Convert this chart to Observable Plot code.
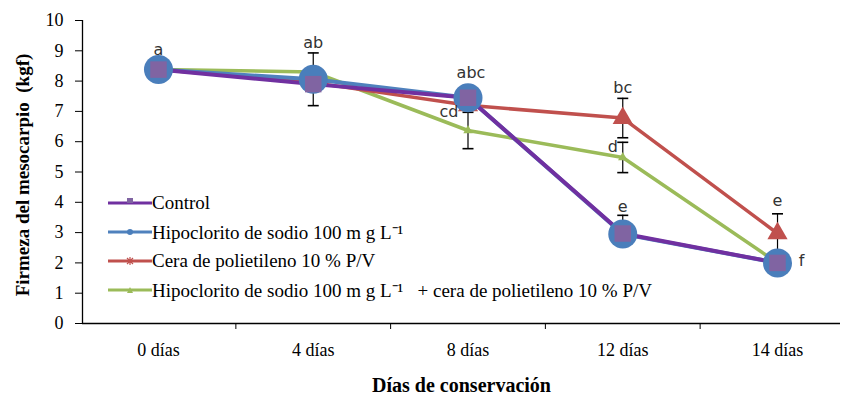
<!DOCTYPE html>
<html><head><meta charset="utf-8">
<script src="https://cdn.jsdelivr.net/npm/d3@7"></script>
<script src="https://cdn.jsdelivr.net/npm/@observablehq/plot@0.6"></script>
<style>
body{margin:0;background:#fff;}
#wrap{position:relative;width:844px;height:404px;}
#legend{position:absolute;left:108px;top:188px;font-family:"Liberation Serif",serif;font-size:19px;color:#000;}
.row{height:29px;display:flex;align-items:center;white-space:nowrap;}
</style></head><body><div id="wrap"><div id="legend"></div></div>
<script>
// ---- data ----
const days = ["0 días", "4 días", "8 días", "12 días", "14 días"];
const seriesNames = [
  "Control",
  "Hipoclorito de sodio 100 m g L\u207B\u00B9",
  "Cera de polietileno 10 % P/V",
  "Hipoclorito de sodio 100 m g L\u207B\u00B9 \u00A0 + cera de polietileno 10 % P/V"
];
const control     = [8.38, 7.90, 7.45, 2.97, 2.00];
const hipoclorito = [8.38, 8.06, 7.45, 2.95, 2.00];
const cera        = [8.38, 7.95, 7.20, 6.78, 2.97];
const combinado   = [8.38, 8.30, 6.37, 5.48, 2.00];
const seriesColors = ["#7030A0", "#4F81BD", "#C0504D", "#9BBB59"];
const yTicks = [0, 1, 2, 3, 4, 5, 6, 7, 8, 9, 10];
// error bars: series index, day index, half-width, lower part shown
const errSeries = [1, 3, 2, 3, 0, 2];
const errDay    = [1, 2, 3, 3, 3, 4];
const errSd     = [0.87, 0.60, 0.65, 0.50, 0.60, 0.65];
const errLower  = [true, true, true, true, false, true];
// significance letters
const letterText = ["a", "ab", "abc", "cd", "bc", "d", "e", "e", "f"];
const letterDay  = [0, 1, 2, 2, 3, 3, 3, 4, 4];
const letterY    = [9.04, 9.27, 8.27, 7.0, 7.79, 5.84, 3.86, 4.06, 2.08];
const letterDx   = [0, 0, 3, -19, 0, -10, 0, 0, 24];

// ---- build tables ----
const allSeries = [control, hipoclorito, cera, combinado];
const rows = allSeries.flatMap((vals, s) => vals.map((v, i) => ({s, i, v})));
const errRows = errSeries.map((s, k) => {
  const v = allSeries[s][errDay[k]];
  return {i: errDay[k], lo: errLower[k] ? v - errSd[k] : v, hi: v + errSd[k], lower: errLower[k]};
});
const letters = letterText.map((t, k) => ({t, i: letterDay[k], y: letterY[k], dx: letterDx[k]}));

const x0 = -0.491, x1 = 4.407;
const capSymbol = {draw(ctx, size) { const w = 5.5; ctx.moveTo(-w, 0); ctx.lineTo(w, 0); }};
const of = s => rows.filter(d => d.s === s);

const marks = [
  Plot.axisY({ticks: yTicks, tickSize: 7, tickPadding: 12, fontSize: 18, label: null, tickFormat: d => d}),
  Plot.axisX({ticks: days.map((d, i) => i), tickSize: 0, tickPadding: 20, fontSize: 18, label: null, tickFormat: i => days[i]}),
  Plot.axisX({ticks: days.slice(1).map((d, i) => i + 0.5), tickSize: 6, tickFormat: () => "", label: null}),
  Plot.ruleX([x0], {stroke: "#000", strokeWidth: 1.3}),
  Plot.ruleY([0], {stroke: "#000", strokeWidth: 1.3}),
  Plot.text(["Firmeza del mesocarpio  (kgf)"], {frameAnchor: "left", textAnchor: "middle", rotate: -90, dx: -60, dy: 3, fontWeight: "bold", fontSize: 19}),
  Plot.text(["Días de conservación"], {frameAnchor: "bottom", dy: 68, fontWeight: "bold", fontSize: 20}),
  // lines
  Plot.line(of(3), {x: "i", y: "v", stroke: seriesColors[3], strokeWidth: 3.5}),
  Plot.line(of(2), {x: "i", y: "v", stroke: seriesColors[2], strokeWidth: 3.5}),
  Plot.line(of(1), {x: "i", y: "v", stroke: seriesColors[1], strokeWidth: 4}),
  Plot.line(of(0), {x: "i", y: "v", stroke: seriesColors[0], strokeWidth: 4}),
  // error bars
  Plot.ruleX(errRows, {x: "i", y1: "lo", y2: "hi", stroke: "#000", strokeWidth: 1.2}),
  Plot.dot(errRows, {x: "i", y: "hi", symbol: capSymbol, stroke: "#000", strokeWidth: 1.6}),
  Plot.dot(errRows.filter(d => d.lower), {x: "i", y: "lo", symbol: capSymbol, stroke: "#000", strokeWidth: 1.6}),
  // markers
  Plot.dot(of(3), {x: "i", y: "v", symbol: "triangle", r: 3.5, fill: seriesColors[3]}),
  Plot.dot(of(2), {x: "i", y: "v", symbol: "triangle", r: 7.5, fill: "#C0504D"}),
  Plot.dot(of(1), {x: "i", y: "v", symbol: "circle", r: 14.5, fill: "#4A7EBB"}),
  Plot.dot(of(0), {x: "i", y: "v", symbol: "square", r: 9.3, fill: "#8064A2"})
];
for (const dx of [...new Set(letterDx)]) {
  marks.push(Plot.text(letters.filter(d => d.dx === dx), {x: "i", y: "y", text: "t", dx, fontFamily: "DejaVu Sans, sans-serif", fontSize: 16, fill: "#333"}));
}

const chart = Plot.plot({
  width: 844, height: 404,
  marginLeft: 82, marginRight: 4, marginTop: 20, marginBottom: 81,
  style: {fontFamily: "Liberation Serif, serif", fontSize: "18px", color: "#000", background: "#fff"},
  x: {type: "linear", domain: [x0, x1], axis: null},
  y: {type: "linear", domain: [0, 10], axis: null},
  marks
});
document.getElementById("wrap").prepend(chart);

// ---- legend ----
const markerSvg = ["<rect x='19' y='2' width='6' height='5' fill='#8064A2'/>",
  "<circle cx='22' cy='7' r='3' fill='#4A7EBB'/>",
  "<path d='M19 4L25 10M25 4L19 10M22 3V11' stroke='#C0504D' stroke-width='1.2'/>",
  "<path d='M19 10L22 4L25 10Z' fill='#9BBB59'/>"];
const legend = document.getElementById("legend");
seriesNames.forEach((name, s) => {
  const row = document.createElement("div");
  row.className = "row";
  row.innerHTML = `<svg width="44" height="14"><line x1="0" x2="44" y1="7" y2="7" stroke="${seriesColors[s]}" stroke-width="3"/>${markerSvg[s]}</svg><span>${name}</span>`;
  legend.appendChild(row);
});
</script></body></html>
